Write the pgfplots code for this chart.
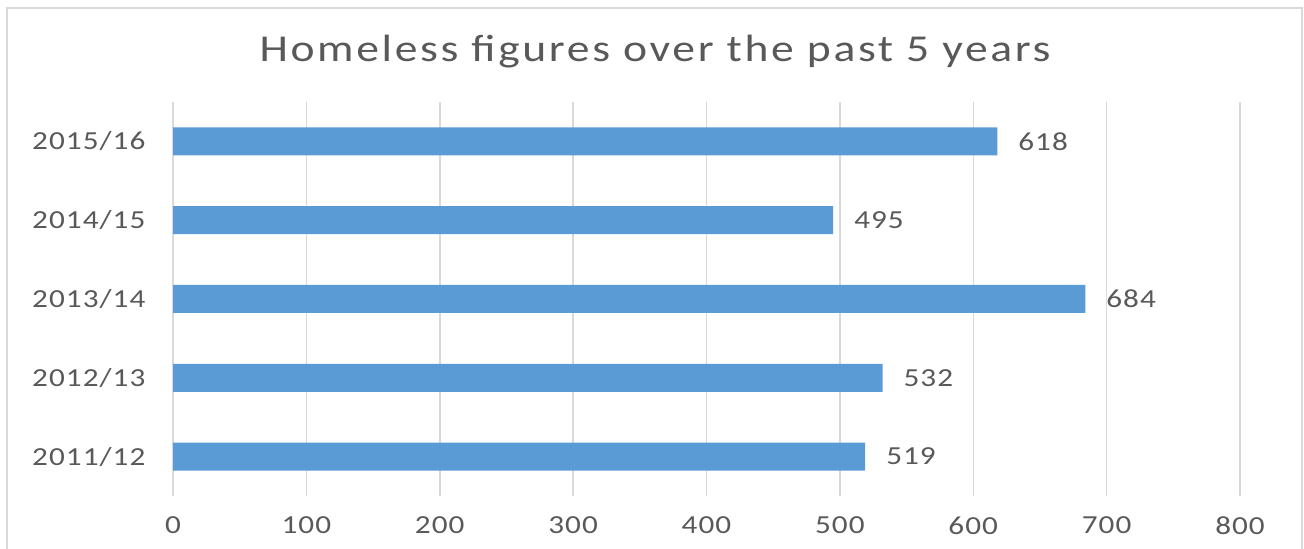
\documentclass[border=0pt]{standalone}
\usepackage{fontspec}
\setmainfont{Carlito}[FakeStretch=1.2, LetterSpace=4]
\newfontfamily\titlefont{Carlito}[FakeStretch=1.2, LetterSpace=7]
\usepackage{pgfplots}
\pgfplotsset{compat=1.18}
\definecolor{barblue}{HTML}{5B9BD5}
\definecolor{txtgray}{HTML}{595959}
\definecolor{gridgray}{HTML}{D9D9D9}
\begin{document}
\begin{tikzpicture}
  \path[use as bounding box] (0,0) rectangle (652pt,274.5pt);
  % chart frame
  \begin{scope}
    \clip (0,0) rectangle (652pt,274.5pt);
    \draw[gridgray, line width=1pt] (3.5pt,270.5pt) rectangle (651.2pt,-10pt);
  \end{scope}
  \node[text=txtgray, font=\titlefont\fontsize{19}{22}\selectfont] at (327.5pt,248.5pt)
    {Homeless figures over the past 5 years};
  \begin{axis}[
    at={(86.5pt,26.5pt)}, anchor=south west,
    scale only axis, width=533.5pt, height=197pt,
    xbar, bar width=14pt,
    xmin=0, xmax=800, ymin=-0.5, ymax=4.5,
    xtick={0,100,...,800},
    ytick={0,1,2,3,4},
    yticklabels={2011/12,2012/13,2013/14,2014/15,2015/16},
    axis line style={draw=none},
    tick style={draw=none},
    xmajorgrids,
    major grid style={color=gridgray, line width=0.75pt},
    ticklabel style={text=txtgray, font=\fontsize{13}{15}\selectfont},
    /pgf/number format/assume math mode=true,
    xticklabel style={yshift=-7pt},
    yticklabel style={xshift=-6pt},
    nodes near coords,
    every node near coord/.append style={anchor=west, xshift=7pt,
      text=txtgray, font=\fontsize{13}{15}\selectfont},
  ]
    \addplot[fill=barblue, draw=none] coordinates {
      (519,0) (532,1) (684,2) (495,3) (618,4)
    };
  \end{axis}
\end{tikzpicture}
\end{document}
